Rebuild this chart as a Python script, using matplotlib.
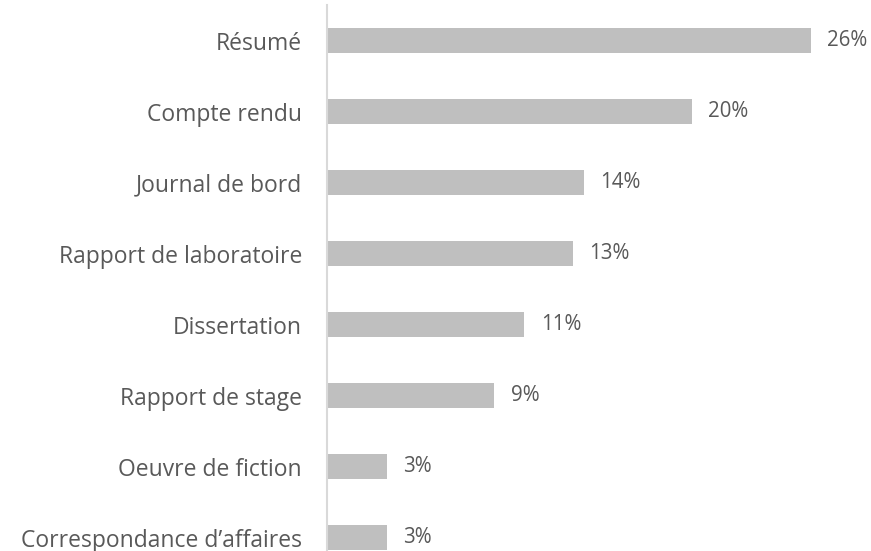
import numpy as np
import matplotlib.pyplot as plt

plt.rcParams['font.family'] = ['Open Sans', 'DejaVu Sans']

# categories, top to bottom
categories = ['Résumé', 'Compte rendu', 'Journal de bord', 'Rapport de laboratoire',
              'Dissertation', 'Rapport de stage', 'Oeuvre de fiction',
              'Correspondance d\u2019affaires']
values = [26.0, 19.6, 13.8, 13.2, 10.6, 9.0, 3.2, 3.2]
labels = ['26%', '20%', '14%', '13%', '11%', '9%', '3%', '3%']

txt = '#595959'
fig = plt.figure(figsize=(8.71, 5.51), dpi=100)
ax = fig.add_axes([327/871, 0, 1 - 327/871, 546/551])

y = np.arange(len(categories))
ax.barh(y, values, height=0.35, color='#bfbfbf')
for yi, v, l in zip(y, values, labels):
    ax.text(v + 0.9, yi, l, va='center', ha='left', fontsize=14.8, color=txt)

ax.set_xlim(0, 544/18.6)
ax.set_ylim(7.19, -0.5)
ax.set_yticks(y)
ax.set_yticklabels(categories, fontsize=16.5, color=txt)
ax.tick_params(axis='y', length=0, pad=18)
ax.set_xticks([])
for s in ['top', 'right', 'bottom']:
    ax.spines[s].set_visible(False)
ax.spines['left'].set_color('#d9d9d9')
ax.spines['left'].set_linewidth(1.5)

fig.savefig('out.png', dpi=100)
